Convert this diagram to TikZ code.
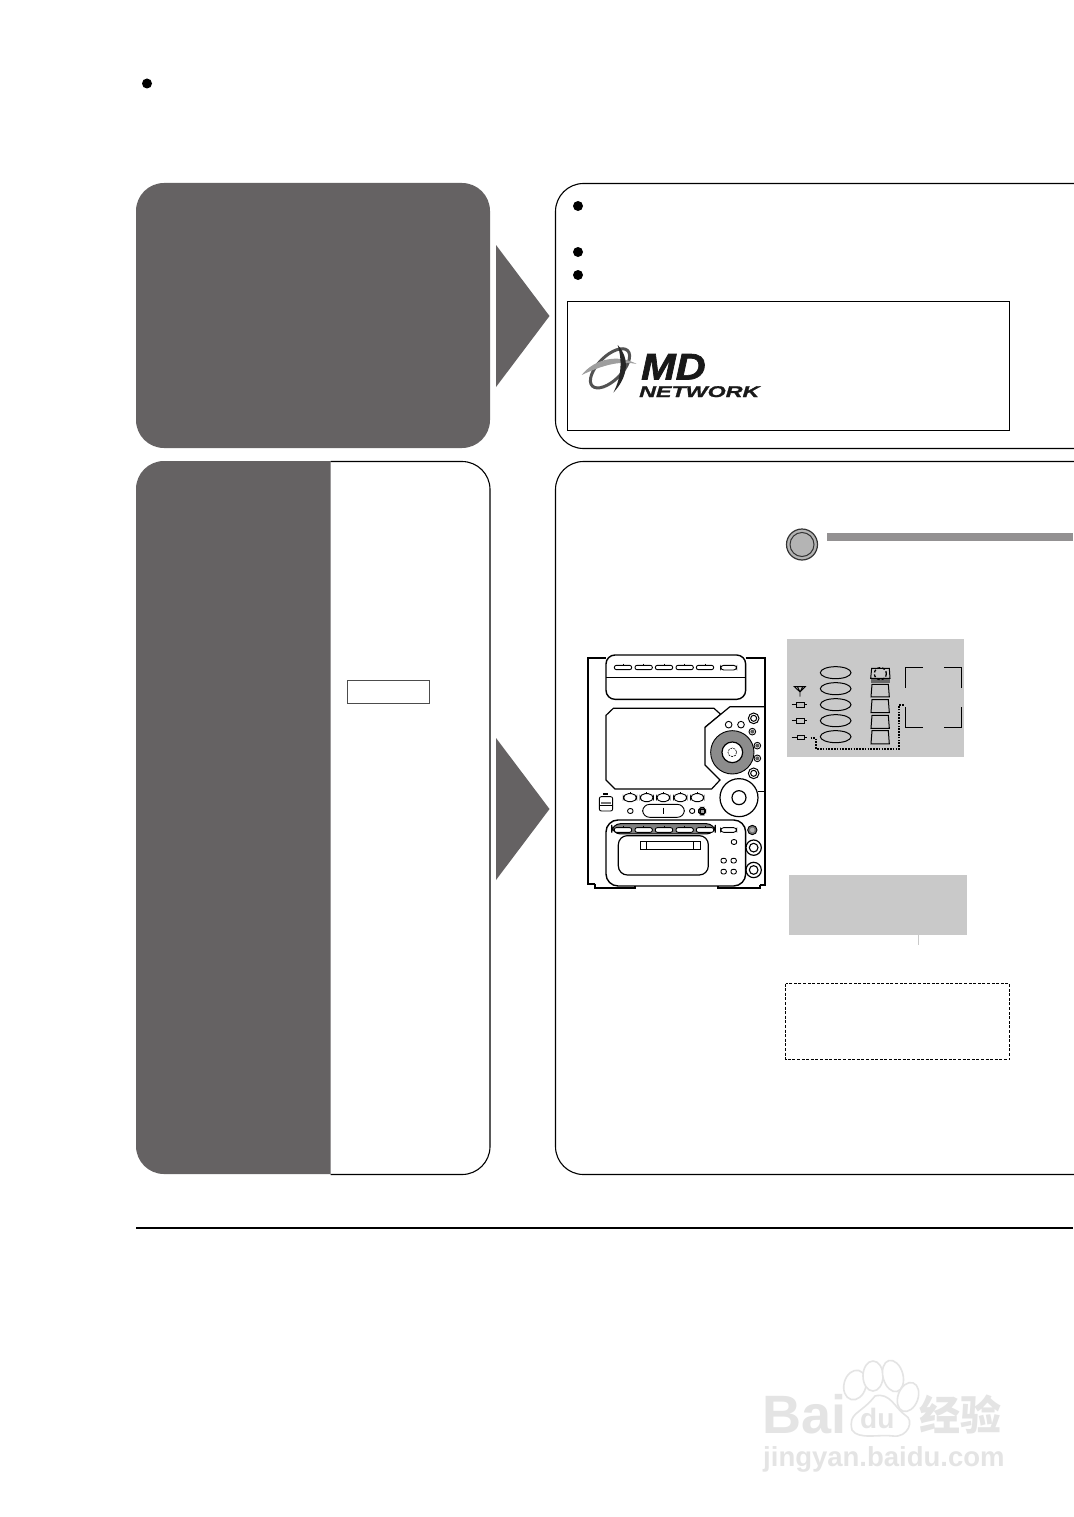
\documentclass[tikz,border=0pt]{standalone}
\usepackage{fontspec}
\setmainfont{Liberation Sans}
\newfontfamily\cjkwm{Noto Sans CJK SC}
\newfontfamily\logofont[FakeStretch=1.12,FakeBold=2]{Liberation Sans Bold Italic}
\newfontfamily\logowide[FakeStretch=1.5,FakeBold=1.5]{Liberation Sans Bold Italic}
\definecolor{panelgrey}{HTML}{656263}
\definecolor{barBlue}{HTML}{939192}
\definecolor{btnfill}{HTML}{B4B4B4}
\definecolor{lcdgrey}{HTML}{C9C9C9}
\definecolor{wmd}{HTML}{E4E4E4}
\tikzset{
 panel/.style={line width=1.1pt,rounded corners=28pt},
 dev/.style={draw=black,line width=1.2pt,fill=white},
 devthin/.style={draw=black,line width=0.9pt,fill=white,rounded corners=2pt},
 bulletdot/.style={circle,fill=black,inner sep=0pt,minimum size=10pt},
 lcdline/.style={draw=black,line width=1pt},
 dots/.style={draw=black,line width=2.2pt,dash pattern=on 1.6pt off 1.2pt},
 wmtext/.style={inner sep=0pt,anchor=base west,text=wmd},
}
\begin{document}
\begin{tikzpicture}[x=1pt,y=-1pt]
\useasboundingbox (0,0) rectangle (1073,1517);
\fill[white] (0,0) rectangle (1073,1517);
% bullets
\node[bulletdot] (b0) at (147,83.5) {};
\node[bulletdot] (b1) at (578,206) {};
\node[bulletdot] (b2) at (578,252) {};
\node[bulletdot] (b3) at (578,275) {};
% upper panels
\fill[panelgrey,rounded corners=28pt] (136,183) rectangle (490,448);
\draw[panel] (1074,183.5) -- (555.5,183.5) -- (555.5,448.5) -- (1074,448.5);
% lower left panel
\begin{scope}
\clip (130,455) rectangle (330.5,1180);
\fill[panelgrey,rounded corners=28pt] (136,461) rectangle (490,1174);
\end{scope}
\begin{scope}
\clip (330.5,455) rectangle (500,1180);
\draw[panel] (136,461.5) rectangle (490,1174.5);
\end{scope}
% lower right panel
\draw[panel] (1074,461.5) -- (555.5,461.5) -- (555.5,1174.5) -- (1074,1174.5);
% arrows
\fill[panelgrey] (496,245) -- (549.5,316) -- (496,387) -- cycle;
\fill[panelgrey] (496,738) -- (549.5,809) -- (496,880) -- cycle;
% logo box
\draw[line width=0.9pt] (567.5,301.5) rectangle (1009.5,430.5);
% logo swirl
\begin{scope}[shift={(575,340)},x=0.3333pt,y=-0.3333pt]
\draw[black!68,line width=3pt,rotate around={45:(105,85)}] (105,85) ellipse (75 and 36);
\fill[black!38] (20,105) .. controls (60,55) and (130,42) .. (185,72) .. controls (140,62) and (90,72) .. (20,105) -- cycle;
\fill[black!85] (128,15) .. controls (165,55) and (160,110) .. (115,158) .. controls (140,110) and (142,60) .. (128,15) -- cycle;
\end{scope}
\node[inner sep=0pt,anchor=base west,text=black!90,font=\logofont\fontsize{37}{37}\selectfont] (logomd) at (641,379.5) {MD};
\node[inner sep=0pt,anchor=base west,text=black!90,font=\logowide\fontsize{15.5}{15.5}\selectfont] (lognet) at (639,397) {NETWORK};
% white small rect
\draw[black!70,line width=1pt,fill=white] (347,680) rectangle (429,703);
% round button and bar
\node[circle,draw=black!80,line width=1.2pt,minimum size=31pt,inner sep=0pt,fill=btnfill] (btn) at (802,544.5) {};
\node[circle,draw=black!80,line width=1pt,minimum size=24pt,inner sep=0pt] at (btn) {};
\fill[barBlue] (827,533) rectangle (1073,541);
% stereo
\begin{scope}[shift={(570,640)},x=0.3333pt,y=-0.3333pt]
\draw[line width=1.7pt] (75,731) -- (55,731) -- (55,55) -- (108,55);
\draw[line width=1.7pt] (527,55) -- (585,55) -- (585,735) -- (570,735);
\draw[line width=1.7pt] (75,731) -- (75,745) -- (195,745) -- (195,738) (445,738) -- (445,745) -- (570,745) -- (570,735);
\draw[dev,line width=1.4pt,rounded corners=9pt] (108,45) rectangle (527,178);
\draw[line width=1.1pt] (108,112) -- (527,112);
\foreach \x in {133,195,256,318,379}{
 \draw[devthin] (\x,76) rectangle +(52,13);
 \draw[line width=0.7pt] (\x+26,71) -- (\x+26,76);
}
\draw[devthin,rounded corners=3pt] (452,76) rectangle (500,90);
% display
\draw[dev] (130,205) -- (432,205) -- (452,223) -- (405,262) -- (405,375) -- (450,420) -- (425,447) -- (135,447) -- (108,420) -- (108,226) -- cycle;
\draw[dev] (405,262) -- (480,200) -- (585,200);
\fill[black!45,draw=black,line width=0.9pt] (487,337) circle (65);
\draw[dev] (487,337) circle (31);
\draw[line width=0.6pt,dash pattern=on 2pt off 1pt] (487,337) circle (13);
\foreach \cx/\cy in {476/254,513/254}{\draw[dev,line width=0.9pt] (\cx,\cy) circle (10);}
\foreach \cx/\cy in {551/235,551/400}{\draw[dev,line width=1pt] (\cx,\cy) circle (16); \draw[line width=1pt] (\cx,\cy) circle (9);}
\foreach \cx/\cy in {547/275,562/317,562/355}{\draw[dev,line width=0.9pt] (\cx,\cy) circle (10); \fill[black!65] (\cx,\cy) circle (6);}
\draw[dev] (507,473) circle (57);
\draw[dev] (507,473) circle (21);
\draw[line width=1.1pt] (564,455) -- (585,455);
\foreach \x in {160,210,260,311,362}{
 \draw[devthin,rounded corners=5pt] (\x,461) rectangle +(40,24);
 \draw[line width=0.7pt] (\x+20,457) -- (\x+20,461);
}
\draw[devthin] (88,470) rectangle (128,513);
\draw[line width=0.9pt] (88,497) -- (128,497);
\fill[black!55] (92,486) rectangle (124,493);
\draw[line width=1.6pt] (100,462) -- (115,462);
\draw[devthin] (173,506) rectangle (189,520);
\draw[devthin,rounded corners=7pt] (218,493) rectangle (343,532);
\draw[line width=1.2pt] (281,503) -- (281,523);
\draw[devthin] (359,506) rectangle (374,520);
\draw[devthin,fill=black!55,rounded corners=4pt] (386,502) rectangle (407,525);
\draw[draw=black,fill=black!35,line width=0.6pt] (391,507) rectangle (402,520);
% tape
\draw[dev,line width=1.4pt,rounded corners=12pt] (108,540) rectangle (527,738);
\draw[line width=1pt,fill=black!50,rounded corners=9pt] (125,551) rectangle (436,582);
\foreach \x in {133,195,256,318,379}{
 \draw[devthin] (\x,563) rectangle +(52,14);
 \draw[line width=0.7pt] (\x+26,557) -- (\x+26,563);
}
\draw[devthin,rounded corners=3pt] (452,563) rectangle (500,577);
\draw[devthin] (484,599) rectangle (500,613);
\draw[dev,rounded corners=9pt] (145,587) -- (415,587) -- (415,705) -- (145,705) -- cycle;
\draw[dev,line width=0.9pt] (211,604) rectangle (390,628);
\draw[line width=0.9pt] (229,604) -- (229,628) (371,604) -- (371,628);
\foreach \cx/\cy in {461/662,491/662,461/695,491/695}{\draw[devthin] (\cx-8,\cy-7) rectangle +(16,14);}
\fill[black!55,draw=black,line width=0.9pt] (547,570) circle (14);
\fill[black!30] (547,570) circle (7);
\foreach \cy in {623,690}{\draw[dev] (551,\cy) circle (23); \draw[line width=1.1pt] (551,\cy) circle (13);}
\end{scope}
% LCD panel
\fill[lcdgrey] (787,638.5) rectangle (964,756.5);
\begin{scope}[shift={(780,630)},x=0.3333pt,y=-0.3333pt]
\foreach \cy in {128,176,224,272,320}{\draw[lcdline] (167,\cy) ellipse (46 and 18);}
\fill[black!60] (272,142) rectangle (330,158);
\draw[lcdline,fill=lcdgrey] (275,115) -- (328,115) -- (330,145) -- (272,145) -- cycle;
\draw[line width=1.3pt,dash pattern=on 3pt off 2pt] (301,131) circle (18);
\foreach \t/\b in {163/201,209/248,256/295,302/342}{
 \draw[lcdline] (276,\t) -- (325,\t) -- (328,\b) -- (273,\b) -- cycle;}
% antenna and jacks
\draw[line width=0.9pt] (43,170) -- (76,170) -- (60,186) -- cycle (60,186) -- (60,200) (52,170) -- (60,186) -- (68,170);
\draw[line width=1pt] (35,225) -- (48,225) (72,225) -- (82,225);
\draw[line width=1pt,fill=black!25] (48,217) rectangle (72,233);
\draw[line width=1pt] (35,273) -- (48,273) (72,273) -- (82,273) (48,266) rectangle (72,280);
\draw[line width=1pt] (35,323) -- (52,323) (72,323) -- (82,323) (52,318) rectangle (72,328);
\draw[dots] (92,325) -- (108,325) -- (108,356) -- (358,356) -- (358,225) -- (375,225);
% brackets
\draw[lcdline] (428,112) -- (377,112) -- (377,175);
\draw[lcdline] (493,112) -- (546,112) -- (546,175);
\draw[lcdline] (377,232) -- (377,292) -- (428,292);
\draw[lcdline] (546,232) -- (546,292) -- (493,292);
\end{scope}
% lower grey
\fill[lcdgrey] (789,875) rectangle (966.5,934.5);
\draw[lcdgrey,line width=0.8pt] (918.5,934) -- (918.5,945);
% dashed box
\draw[line width=1.6pt,dash pattern=on 3pt off 1.6pt] (785.5,983.5) rectangle (1009.5,1059.5);
% rule
\draw[line width=1.8pt] (136,1228) -- (1073,1228);
% watermark
\foreach \cx/\cy/\rx/\ry/\a in {855/1385/11/15/-15,873/1376/10/15/0,893/1376/10/16/15,908/1397/10/15/-20}
 {\draw[wmd,line width=1.6pt,fill=white,rotate around={\a:(\cx,\cy)}] (\cx,\cy) ellipse (\rx pt and \ry pt);}
\draw[wmd,line width=1.6pt,fill=white] (875,1396) .. controls (860,1415) and (848,1412) .. (852,1430) .. controls (858,1440) and (880,1434) .. (893,1436) .. controls (908,1438) and (915,1420) .. (905,1415) .. controls (895,1408) and (890,1392) .. (875,1396) -- cycle;
\node[wmtext,font=\bfseries\fontsize{54}{54}\selectfont] (wmbai) at (762,1433) {Bai};
\node[wmtext,font=\bfseries\fontsize{28}{28}\selectfont] (wmdu) at (860,1428) {du};
\node[wmtext,font=\cjkwm\bfseries\fontsize{41}{41}\selectfont] (wmjy) at (919,1430) {经验};
\node[wmtext,font=\bfseries\fontsize{27.5}{27.5}\selectfont] (wmurl) at (763,1466) {jingyan.baidu.com};
\end{tikzpicture}
\end{document}
